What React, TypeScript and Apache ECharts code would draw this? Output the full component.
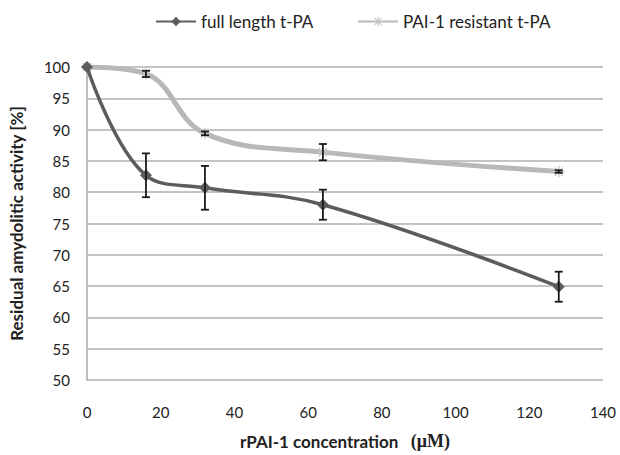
import React, { useEffect, useRef } from "react";
import * as echarts from "echarts";

const concentrations = [0, 16, 32, 64, 128];
const fullLength = [100, 82.7, 80.7, 78.0, 64.9];
const fullLengthErr = [0, 3.5, 3.5, 2.4, 2.4];
const resistant = [100, 98.9, 89.4, 86.4, 83.3];
const resistantErr = [0, 0.5, 0.3, 1.3, 0.2];
const seriesNames = ["full length t-PA", "PAI-1 resistant t-PA"];
const xTitle = "rPAI-1 concentration   {s|(μM)}";
const yTitle = "Residual amydolitic activity [%]";

const asterisk =
  "path://M4.4 0H5.6V10H4.4Z M0 4.4H10V5.6H0Z M0.8 1.6L1.6 0.8L9.2 8.4L8.4 9.2Z M8.4 0.8L9.2 1.6L1.6 9.2L0.8 8.4Z";

const FONT = "Lato, 'Noto Sans', sans-serif";

function errorSeries(vals: number[], errs: number[]) {
  const data = concentrations
    .map((x, i) => [x, vals[i] - errs[i], vals[i] + errs[i]])
    .filter((d, i) => errs[i] > 0);
  return {
    type: "custom",
    silent: true,
    z: 5,
    data,
    renderItem: (params: any, api: any) => {
      const x = api.value(0);
      const lo = api.coord([x, api.value(1)]);
      const hi = api.coord([x, api.value(2)]);
      const w = 4;
      const style = { stroke: "#1a1a1a", lineWidth: 1.8 };
      return {
        type: "group",
        children: [
          { type: "line", shape: { x1: lo[0], y1: lo[1], x2: hi[0], y2: hi[1] }, style },
          { type: "line", shape: { x1: lo[0] - w, y1: lo[1], x2: lo[0] + w, y2: lo[1] }, style },
          { type: "line", shape: { x1: hi[0] - w, y1: hi[1], x2: hi[0] + w, y2: hi[1] }, style },
        ],
      };
    },
  };
}

const legendBase = {
  top: 8,
  itemWidth: 40,
  itemHeight: 12,
  textStyle: { fontFamily: FONT, fontSize: 17, color: "#222" },
};

export default function App() {
  const ref = useRef<HTMLDivElement>(null);
  useEffect(() => {
    document.body.style.margin = "0";
    const chart = echarts.init(ref.current!, null, { renderer: "svg" });
    chart.setOption({
      animation: false,
      backgroundColor: "#ffffff",
      textStyle: { fontFamily: FONT },
      legend: [
        { ...legendBase, data: [seriesNames[0]], left: 150 },
        { ...legendBase, data: [seriesNames[1]], left: 352 },
      ],
      grid: { left: 84, right: 17, top: 67, bottom: 71 },
      xAxis: {
        type: "value",
        min: 0,
        max: 140,
        interval: 20,
        name: xTitle,
        nameLocation: "middle",
        nameGap: 52,
        nameTextStyle: {
          fontFamily: FONT,
          fontSize: 17,
          fontWeight: "bold",
          color: "#222",
          rich: {
            s: {
              fontFamily: "'Liberation Serif', serif",
              fontSize: 18,
              fontWeight: "bold",
              color: "#222",
            },
          },
        },
        axisLine: { show: false },
        axisTick: { show: false },
        splitLine: { show: false },
        axisLabel: { fontSize: 15, color: "#222", margin: 24, fontFamily: FONT },
      },
      yAxis: {
        type: "value",
        min: 50,
        max: 100,
        interval: 5,
        name: yTitle,
        nameLocation: "middle",
        nameGap: 62,
        nameTextStyle: { fontFamily: FONT, fontSize: 17, fontWeight: "bold", color: "#222" },
        axisLine: { show: true, lineStyle: { color: "#a8a8a8", width: 1.5 } },
        axisTick: { show: false },
        splitLine: { show: true, lineStyle: { color: "#b0b0b0", width: 1.5 } },
        axisLabel: { fontSize: 15, color: "#222", margin: 17, fontFamily: FONT },
      },
      series: [
        {
          name: seriesNames[1],
          type: "line",
          smooth: 0.4,
          data: concentrations.map((x, i) => [x, resistant[i]]),
          lineStyle: { color: "#b8b8b8", width: 5 },
          itemStyle: { color: "#c4c4c4" },
          symbol: asterisk,
          symbolSize: 11,
          z: 2,
        },
        {
          name: seriesNames[0],
          type: "line",
          smooth: 0.4,
          data: concentrations.map((x, i) => [x, fullLength[i]]),
          lineStyle: { color: "#5c5c5c", width: 3.5 },
          itemStyle: { color: "#5c5c5c" },
          symbol: "diamond",
          symbolSize: 12,
          z: 3,
        },
        errorSeries(fullLength, fullLengthErr),
        errorSeries(resistant, resistantErr),
      ],
    });
    return () => chart.dispose();
  }, []);
  return <div ref={ref} style={{ width: 620, height: 455 }} />;
}
